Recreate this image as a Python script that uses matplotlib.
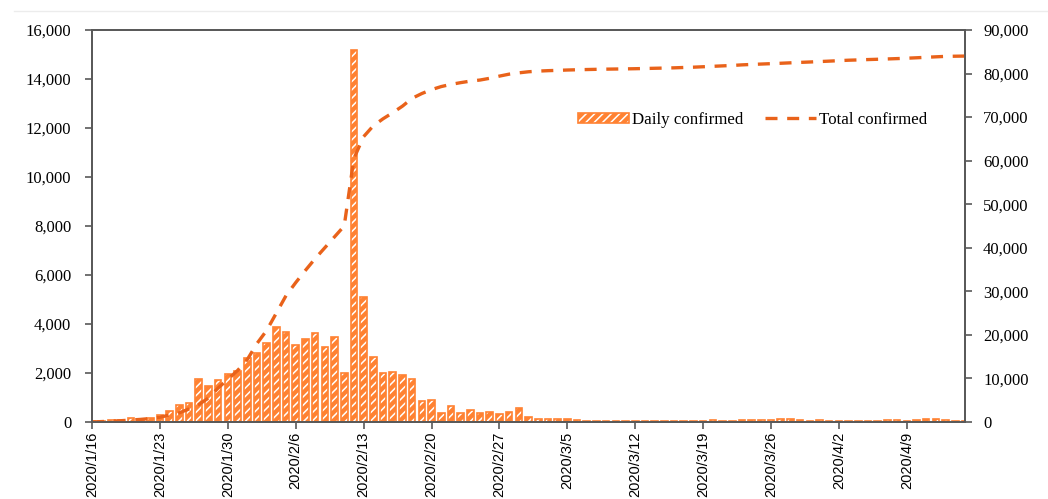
import numpy as np
import matplotlib
matplotlib.use("Agg")
import matplotlib.pyplot as plt
from matplotlib.patches import Patch
from matplotlib.lines import Line2D

# daily new confirmed cases, one value per day from 2020/1/16 to 2020/4/15
daily = [40, 60, 70, 80, 150, 130, 170, 270, 440, 700,
         780, 1760, 1460, 1720, 1970, 2080, 2600, 2820, 3210, 3870,
         3680, 3140, 3400, 3650, 3070, 3480, 2010, 15180, 5090, 2635,
         2015, 2060, 1900, 1755, 845, 885, 385, 650, 385, 505,
         385, 425, 330, 425, 580, 215, 130, 120, 120, 135,
         100, 45, 40, 35, 38, 32, 30, 32, 38, 34,
         40, 36, 50, 60, 65, 60, 60, 95, 70, 90,
         75, 110, 120, 100, 60, 70, 55, 60, 50, 50,
         60, 50, 75, 80, 60, 70, 110, 110, 100, 60, 40]

# cumulative confirmed cases (right axis)
total = [0, 100, 200, 300, 450, 600, 800, 1100, 1600, 2100,
         3000, 4000, 5500, 7800, 9800, 11800, 14300, 18000, 21000, 25000,
         29000, 32000, 34800, 37500, 40000, 42500, 45000, 60500, 65500, 68000,
         69600, 71000, 72500, 74300, 75400, 76300, 77000, 77500, 77900, 78250,
         78500, 78900, 79400, 79850, 80150, 80400, 80550, 80650, 80720, 80800,
         80860, 80910, 80960, 81000, 81030, 81060, 81100, 81150, 81200, 81250,
         81300, 81380, 81450, 81550, 81650, 81750, 81850, 81980, 82080, 82170,
         82260, 82350, 82450, 82550, 82640, 82740, 82840, 82950, 83050, 83120,
         83200, 83270, 83340, 83420, 83510, 83610, 83720, 83830, 83930, 83970, 84000]

tick_pos = [0, 7, 14, 21, 28, 35, 42, 49, 56, 63, 70, 77, 84]
tick_labels = ["2020/1/16", "2020/1/23", "2020/1/30", "2020/2/6", "2020/2/13",
               "2020/2/20", "2020/2/27", "2020/3/5", "2020/3/12", "2020/3/19",
               "2020/3/26", "2020/4/2", "2020/4/9"]

bar_col = "#FF8232"
line_col = "#E9621A"
spine_col = "#595959"
serif = "Liberation Serif"

plt.rcParams["hatch.linewidth"] = 1.1

days = np.arange(len(daily))

fig = plt.figure(figsize=(10.48, 4.99), dpi=100)
ax = fig.add_axes([0.0878, 0.1543, 0.833, 0.7857])
ax2 = ax.twinx()

# bars: orange fill with white hatch, then an orange outline on top
ax.bar(days, daily, width=0.68, color=bar_col, edgecolor="white", hatch="////", linewidth=0)
ax.bar(days, daily, width=0.68, facecolor="none", edgecolor=bar_col, linewidth=1.2)

ax2.plot(days, total, color=line_col, lw=2.4, linestyle=(0, (3.6, 2.9)))

ax.set_xlim(0, 90)
ax.set_ylim(0, 16000)
ax2.set_ylim(0, 90000)
ax.set_yticks(np.arange(0, 16001, 2000))
ax2.set_yticks(np.arange(0, 90001, 10000))
ax.set_yticklabels([f"{v:,}" for v in range(0, 16001, 2000)], fontfamily=serif, fontsize=12)
ax2.set_yticklabels([f"{v:,}" for v in range(0, 90001, 10000)], fontfamily=serif, fontsize=12)
ax.set_xticks(tick_pos)
ax.set_xticklabels(tick_labels, rotation=90, fontfamily="Liberation Sans", fontsize=10.5)

for a in (ax, ax2):
    for s in a.spines.values():
        s.set_color(spine_col)
        s.set_linewidth(1.3)
    a.tick_params(colors=spine_col, labelcolor="black", width=1.2, length=5)
ax.tick_params(axis="y", pad=10)
ax2.tick_params(axis="y", pad=8)
ax.tick_params(axis="x", pad=2)

bar_handle = (Patch(facecolor=bar_col, edgecolor="white", hatch="////", linewidth=0),
              Patch(facecolor="none", edgecolor=bar_col, linewidth=1.2))
line_handle = Line2D([], [], color=line_col, lw=2.4, linestyle=(0, (3.6, 2.9)))
ax2.legend([bar_handle, line_handle], ["Daily confirmed", "Total confirmed"],
           loc="center left", bbox_to_anchor=(0.557, 0.771), ncol=2, frameon=False,
           prop={"family": serif, "size": 12.2}, handlelength=3.0, handleheight=0.5,
           handletextpad=0.2, columnspacing=1.25, borderpad=0, borderaxespad=0)

# faint frame line at the very top of the picture
fig.add_artist(Line2D([0.013, 1.0], [0.978, 0.978], color="#ececec", lw=1))

fig.savefig("out.png", dpi=100)
